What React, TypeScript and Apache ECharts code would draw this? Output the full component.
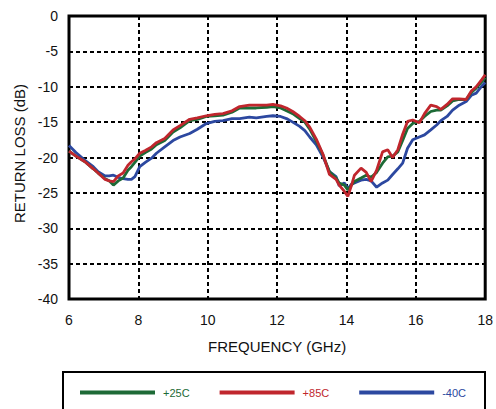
import React, { useEffect, useRef } from "react";
import * as echarts from "echarts";

const freqGHz = [
  6.0, 6.2, 6.46, 6.7, 6.84, 7.04, 7.16, 7.28, 7.42, 7.56, 7.7, 7.8, 7.9, 8.04, 8.2, 8.38, 8.52, 8.76, 9.0, 9.2,
  9.48, 9.7, 9.96, 10.2, 10.44, 10.7, 10.92, 11.2, 11.4, 11.7, 11.88, 12.1, 12.27, 12.45, 12.65, 12.8, 12.94, 13.13,
  13.32, 13.51, 13.7, 13.79, 13.94, 14.04, 14.14, 14.23, 14.42, 14.57, 14.71, 14.87, 15.04, 15.19, 15.33, 15.48,
  15.62, 15.76, 15.91, 16.1, 16.25, 16.43, 16.6, 16.72, 16.9, 17.06, 17.25, 17.45, 17.6, 17.74, 17.9, 18.0,
];

const rl25C = [
  -19.1, -19.8, -20.6, -21.6, -22.2, -23.0, -23.3, -23.9, -23.3, -22.9, -21.8, -21.3, -20.7, -19.8, -19.3, -18.8,
  -18.2, -17.6, -16.4, -15.8, -14.8, -14.6, -14.2, -14.1, -14.0, -13.6, -13.0, -13.0, -13.0, -12.9, -12.8, -13.0,
  -13.4, -13.8, -14.5, -15.0, -16.0, -17.7, -19.6, -22.0, -22.9, -23.6, -23.9, -24.6, -23.9, -23.4, -22.9, -22.5,
  -22.8, -22.1, -20.8, -19.9, -19.8, -19.2, -17.6, -15.9, -15.2, -14.9, -14.2, -13.5, -13.3, -13.3, -12.7, -12.0,
  -11.8, -11.8, -10.8, -10.2, -9.3, -8.7,
];

const rl85C = [
  -19.1, -19.8, -20.6, -21.6, -22.2, -23.1, -23.3, -23.4, -22.6, -22.2, -21.1, -20.6, -20.2, -19.4, -19.0, -18.5,
  -17.9, -17.3, -16.1, -15.5, -14.6, -14.4, -14.1, -13.9, -13.8, -13.4, -12.8, -12.6, -12.6, -12.6, -12.5, -12.7,
  -13.0, -13.5, -14.2, -14.8, -15.7, -17.4, -19.5, -22.4, -23.1, -23.9, -24.8, -25.5, -24.0, -22.5, -21.5, -22.1,
  -23.4, -21.8, -19.2, -18.9, -20.0, -18.9, -16.7, -14.9, -14.7, -15.1, -13.8, -12.6, -12.8, -13.2, -12.5, -11.7,
  -11.7, -11.8, -10.6, -10.0, -9.0, -8.3,
];

const rlM40C = [
  -18.3, -19.3, -20.4, -21.3, -22.0, -22.6, -22.6, -22.5, -22.8, -23.0, -23.1, -23.1, -22.7, -21.3, -20.7, -20.1,
  -19.4, -18.5, -17.6, -17.1, -16.6, -16.0, -15.2, -14.9, -14.8, -14.5, -14.5, -14.3, -14.4, -14.2, -14.1, -14.2,
  -14.5, -15.0, -15.6, -16.2, -17.1, -18.2, -19.9, -22.0, -22.7, -24.0, -23.6, -24.4, -23.8, -23.6, -23.2, -23.1,
  -23.3, -24.2, -23.6, -23.2, -22.4, -21.6, -20.8, -18.7, -17.5, -17.1, -16.8, -16.1, -15.4, -14.8, -14.2, -13.3,
  -12.6, -12.1, -11.2, -10.9, -9.9, -9.4,
];

const seriesNames = ["+25C", "+85C", "-40C"];
const seriesColors = ["#1d6a36", "#c0262d", "#2c48a0"];

export default function App() {
  const ref = useRef<HTMLDivElement>(null);

  useEffect(() => {
    if (!ref.current) return;
    const chart = echarts.init(ref.current, undefined, { renderer: "svg" });
    const font = "Liberation Sans, Arial, Helvetica, sans-serif";
    const pairs = (vals: number[]) => freqGHz.map((f, i) => [f, vals[i]]);
    const dataSets = [rl25C, rl85C, rlM40C];
    const order = [2, 0, 1];

    chart.setOption({
      animation: false,
      backgroundColor: "#ffffff",
      textStyle: { fontFamily: font },
      grid: {
        left: 69,
        right: 10,
        top: 16,
        bottom: 110,
        show: true,
        borderColor: "#000",
        borderWidth: 3,
        backgroundColor: "transparent",
      },
      xAxis: {
        type: "value",
        min: 6,
        max: 18,
        interval: 2,
        name: "FREQUENCY (GHz)",
        nameLocation: "middle",
        nameGap: 40,
        nameTextStyle: { fontSize: 15, color: "#111", fontFamily: font },
        axisLine: { show: false },
        axisTick: { show: false },
        axisLabel: { fontSize: 14, color: "#111", margin: 14, fontFamily: font },
        splitLine: { show: true, lineStyle: { color: "#000", type: [4, 3], width: 2 } },
      },
      yAxis: {
        type: "value",
        min: -40,
        max: 0,
        interval: 5,
        name: "RETURN LOSS (dB)",
        nameLocation: "middle",
        nameGap: 40,
        nameTextStyle: { fontSize: 15, color: "#111", fontFamily: font, padding: [0, 0, 0, 8] },
        axisLine: { show: false },
        axisTick: { show: false },
        axisLabel: { fontSize: 14, color: "#111", margin: 11, fontFamily: font },
        splitLine: { show: true, lineStyle: { color: "#000", type: [4, 3], width: 2 } },
      },
      legend: {
        left: 75,
        top: 382,
        itemWidth: 75,
        itemHeight: 4,
        itemGap: 30,
        icon: "rect",
        data: seriesNames.map((n, i) => ({
          name: n,
          textStyle: { color: seriesColors[i], fontSize: 11, fontFamily: font, padding: [0, 0, 0, 3] },
        })),
      },
      graphic: [
        {
          type: "rect",
          shape: { x: 63, y: 372, width: 422, height: 60 },
          style: { fill: "none", stroke: "#000", lineWidth: 2 },
          silent: true,
        },
      ],
      series: order.map((i) => ({
        name: seriesNames[i],
        type: "line",
        data: pairs(dataSets[i]),
        showSymbol: false,
        smooth: false,
        lineStyle: { color: seriesColors[i], width: 2.8 },
        itemStyle: { color: seriesColors[i] },
      })),
    });

    return () => chart.dispose();
  }, []);

  return (
    <div
      ref={ref}
      style={{ position: "fixed", left: 0, top: 0, width: 496, height: 409 }}
    />
  );
}
